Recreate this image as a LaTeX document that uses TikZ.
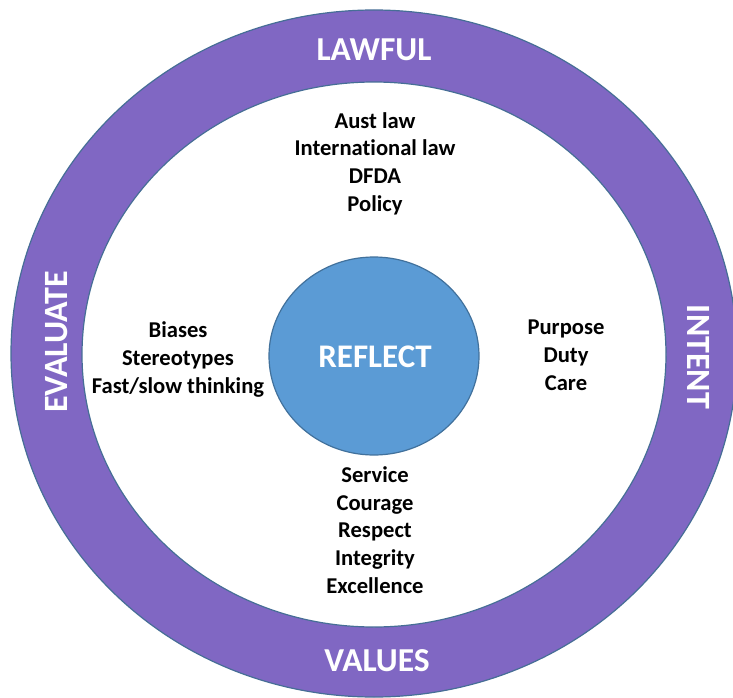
\documentclass[tikz,border=0pt]{standalone}
\usepackage{fontspec}
\setmainfont{Carlito}[Ligatures=NoCommon]
\definecolor{ringpurple}{RGB}{128,103,195}
\definecolor{ringedge}{RGB}{70,110,150}
\definecolor{coreblue}{RGB}{91,155,213}
\definecolor{coreedge}{RGB}{65,113,156}
\tikzset{
  bodytext/.style={align=center,inner sep=0pt,anchor=base,font=\bfseries\fontsize{22.6}{27.6}\selectfont,text=black},
  ringlabel/.style={inner sep=0pt,anchor=base,font=\bfseries\fontsize{33.5}{40}\selectfont,text=white},
  sidelabel/.style={inner sep=0pt,font=\bfseries\fontsize{34}{40}\selectfont,text=white},
}
\begin{document}
\begin{tikzpicture}[x=1pt,y=-1pt]
\useasboundingbox (0,0) rectangle (733,698);
\clip (0,0) rectangle (733,698);
\fill[white] (0,0) rectangle (733,698);
\draw[fill=ringpurple,draw=ringedge,line width=1.2pt] (374,353.5) ellipse [x radius=363,y radius=343.5];
\draw[fill=white,draw=ringedge,line width=1.2pt] (374,354.5) ellipse [x radius=292,y radius=272.5];
\draw[fill=coreblue,draw=coreedge,line width=1.2pt] (374,356) ellipse [x radius=105,y radius=99];
\node[inner sep=0pt,anchor=base,font=\bfseries\fontsize{33}{40}\selectfont,text=white] (reflect) at (375,367) {REFLECT};
\node[ringlabel] (lawful) at (374,61) {LAWFUL};
\node[ringlabel] (values) at (377,671) {VALUES};
\node[sidelabel,rotate=90] (evaluate) at (57,342) {EVALUATE};
\node[sidelabel,rotate=-90] (intent) at (699,357) {INTENT};
\node[bodytext] (law) at (375,211) {Aust law\\International law\\DFDA\\Policy};
\node[bodytext] (bias) at (178,393) {Biases\\Stereotypes\\Fast/slow thinking};
\node[bodytext] (purpose) at (566,390) {Purpose\\Duty\\Care};
\node[bodytext] (service) at (375,593) {Service\\Courage\\Respect\\Integrity\\Excellence};
\end{tikzpicture}
\end{document}
